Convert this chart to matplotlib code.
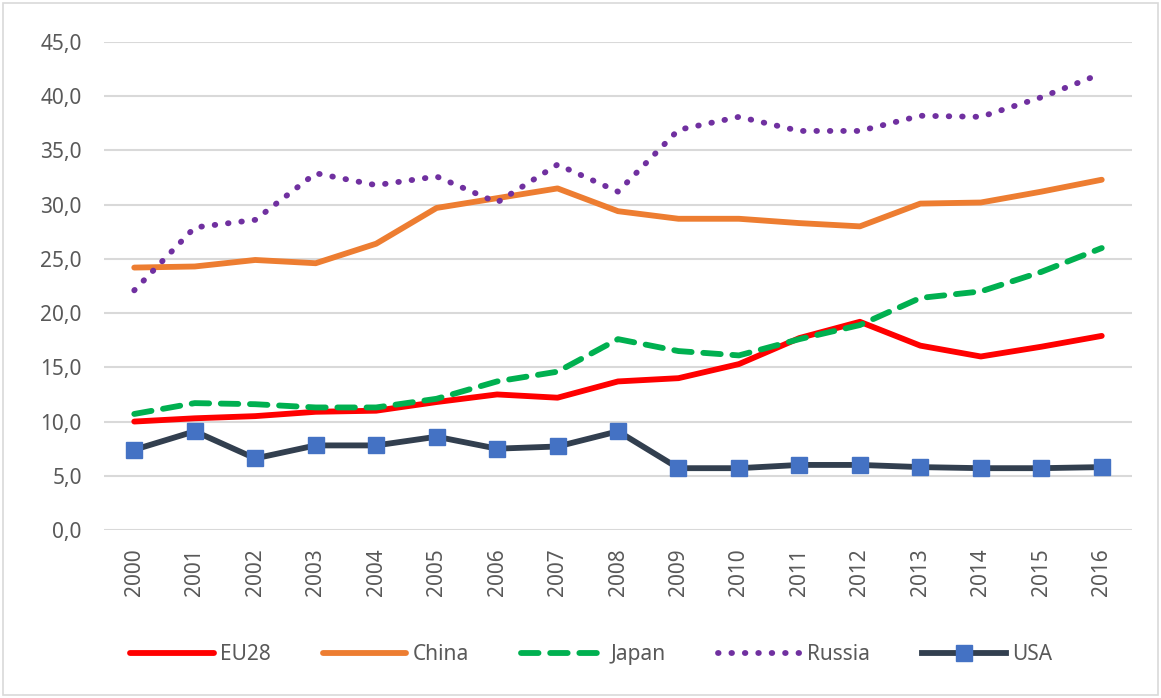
import matplotlib
matplotlib.use("Agg")
import matplotlib.pyplot as plt
from matplotlib.patches import Rectangle

years = [str(y) for y in range(2000, 2017)]

eu28 = [10.0, 10.3, 10.5, 10.9, 11.0, 11.8, 12.5, 12.2, 13.7, 14.0, 15.3, 17.7, 19.2, 17.0, 16.0, 16.9, 17.9]
china = [24.2, 24.3, 24.9, 24.6, 26.4, 29.7, 30.6, 31.5, 29.4, 28.7, 28.7, 28.3, 28.0, 30.1, 30.2, 31.2, 32.3]
japan = [10.7, 11.7, 11.6, 11.3, 11.3, 12.1, 13.7, 14.6, 17.6, 16.5, 16.1, 17.6, 18.9, 21.4, 22.0, 23.8, 26.0]
russia = [22.1, 27.9, 28.6, 32.9, 31.8, 32.6, 30.2, 33.7, 31.2, 36.9, 38.1, 36.8, 36.8, 38.2, 38.1, 39.9, 42.1]
usa = [7.4, 9.1, 6.6, 7.8, 7.8, 8.6, 7.5, 7.7, 9.1, 5.7, 5.7, 6.0, 6.0, 5.8, 5.7, 5.7, 5.8]

plt.rcParams["font.family"] = ["Noto Sans", "DejaVu Sans"]
text_color = "#595959"

fig = plt.figure(figsize=(11.61, 6.98), dpi=100)
ax = fig.add_axes([0.0896, 0.2407, 0.8854, 0.6991])

x = range(len(years))
ax.plot(x, eu28, color="#FF0000", lw=4.2, solid_capstyle="round", label="EU28", zorder=3)
ax.plot(x, china, color="#ED7D31", lw=4.2, solid_capstyle="round", label="China", zorder=3)
ax.plot(x, japan, color="#00B050", lw=4.2, linestyle=(0, (3, 2)), dash_capstyle="round", label="Japan", zorder=3)
ax.plot(x, russia, color="#7030A0", lw=4.2, linestyle=(0, (0.1, 2.2)), dash_capstyle="round", label="Russia", zorder=3)
ax.plot(x, usa, color="#323F4F", lw=4.2, marker="s", markersize=12,
        markerfacecolor="#4472C4", markeredgecolor="#4472C4", label="USA", zorder=4)

ax.set_xlim(-0.5, len(years) - 0.5)
ax.set_ylim(0, 45)
ax.set_yticks(range(0, 46, 5))
ax.set_yticklabels([f"{v},0" for v in range(0, 46, 5)])
ax.set_xticks(list(x))
ax.set_xticklabels(years, rotation=90)
ax.tick_params(axis="both", length=0, labelsize=15, colors=text_color)
ax.tick_params(axis="x", pad=13)
ax.tick_params(axis="y", pad=16)
ax.grid(axis="y", color="#D9D9D9", lw=1.5)
ax.set_axisbelow(True)
for s in ax.spines.values():
    s.set_visible(False)

leg = ax.legend(loc="center", bbox_to_anchor=(0.474, -0.255), ncol=5, frameon=False,
                fontsize=15, handlelength=4.0, columnspacing=2.5, handletextpad=0.3)
for t in leg.get_texts():
    t.set_color(text_color)

fig.patches.append(Rectangle((0.003, 0.004), 0.994, 0.992, transform=fig.transFigure,
                             fill=False, edgecolor="#D9D9D9", lw=1.2))

fig.savefig("out.png", dpi=100)
